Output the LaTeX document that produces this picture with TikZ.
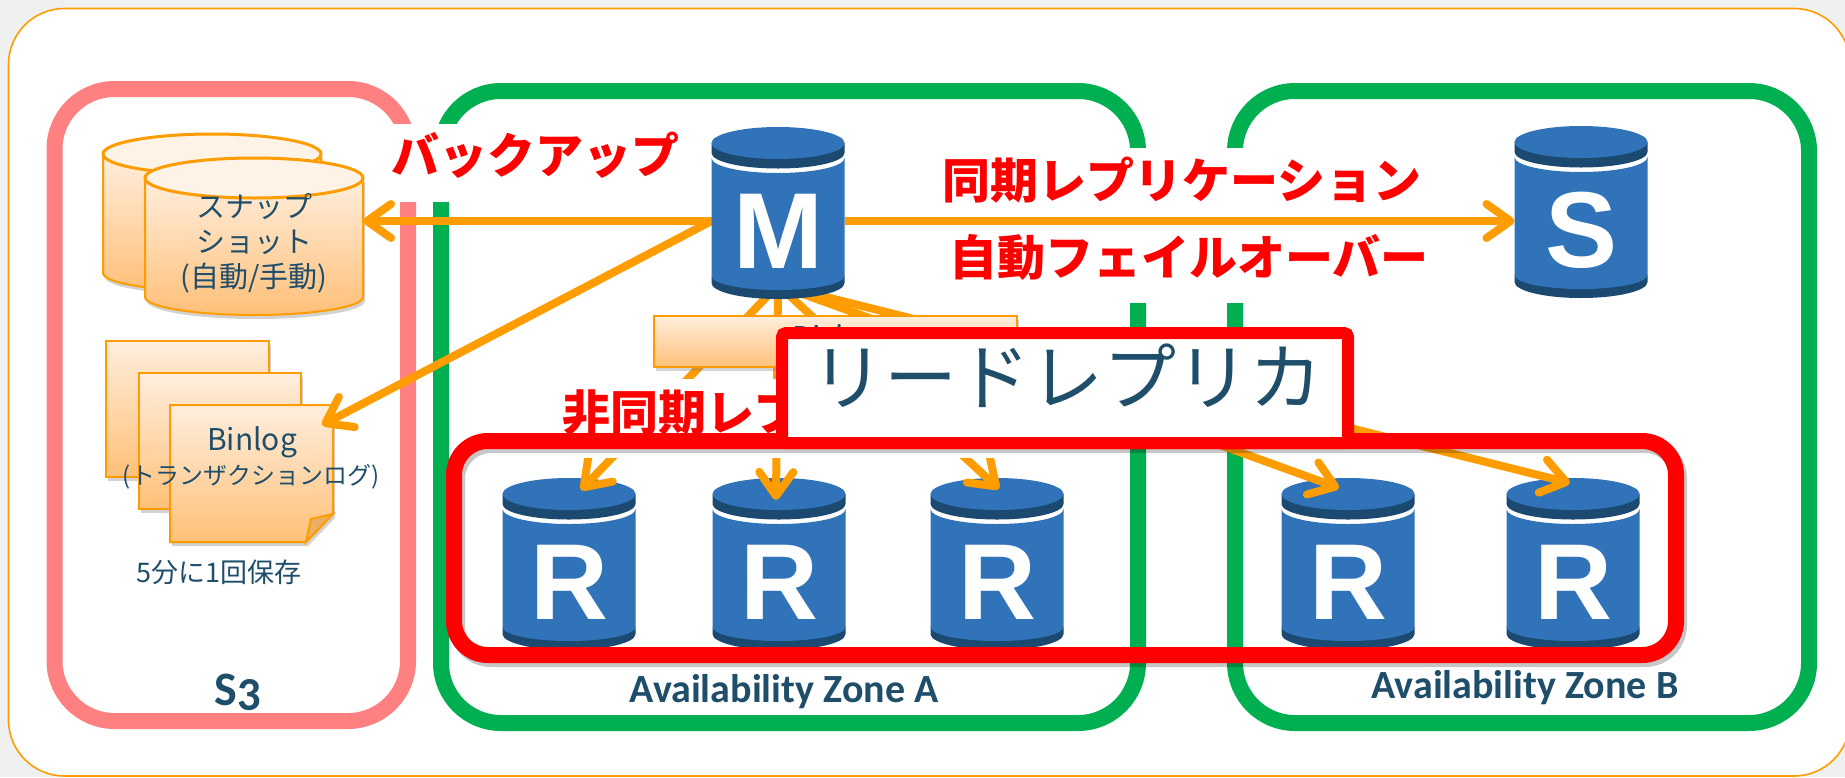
\documentclass[tikz,border=0pt]{standalone}
\usepackage{fontspec}
\usetikzlibrary{arrows.meta,shadows}
\newfontfamily\jpfont{Noto Sans CJK JP}
\newfontfamily\zonefont[Numbers=OldStyle]{Carlito}
\newfontfamily\iconfont{Liberation Sans}
\definecolor{pagegray}{HTML}{EFF1F1}
\definecolor{linkorange}{HTML}{FF9C00}
\definecolor{zonepink}{HTML}{FF8080}
\definecolor{zonegreen}{HTML}{00B050}
\definecolor{textblue}{HTML}{1F4E6B}
\definecolor{dbblue}{HTML}{3073B8}
\definecolor{dbdark}{HTML}{1B4970}
\definecolor{papertop}{HTML}{FFEEDD}
\definecolor{paperbottom}{HTML}{FFC078}
\tikzset{
  dbanchor/.style={inner sep=0,outer sep=0,minimum width=66.5pt,minimum height=86pt},
  dbletter/.style={inner sep=0,outer sep=0,text=white,font=\iconfont\bfseries\fontsize{54pt}{54pt}\selectfont},
  linkarrow/.style={linkorange,line width=4pt,-{Straight Barb[length=12pt,width=17pt,round]}},
  paper/.style={draw=linkorange,line width=1pt,top color=papertop,bottom color=paperbottom,
    drop shadow={shadow xshift=1pt,shadow yshift=-2pt,opacity=.35}},
  zoneline/.style={line width=8pt,rounded corners=30pt},
  gapbox/.style={fill=white,inner sep=0,outer sep=0},
  redtext/.style={inner sep=0,text=red,font=\jpfont\bfseries\fontsize{24pt}{28pt}\selectfont},
  bluetext/.style={inner sep=0,outer sep=0,text=textblue,align=center},
  zonetext/.style={inner sep=0,text=textblue,font=\zonefont\bfseries\fontsize{20pt}{24pt}\selectfont},
}
% one database drum, #2 = centre x, #3 = top y
\newcommand{\dbicon}[4]{
  \begin{scope}[shift={(#2,#3)}]
    \fill [dbdark] (-66.5,149) -- (-66.5,156) arc [start angle=180,end angle=0,x radius=66.5,y radius=16] -- (66.5,149) -- cycle;
    \fill [dbblue] (-66.5,31) arc [start angle=180,end angle=0,x radius=66.5,y radius=15] -- (66.5,149) arc [start angle=0,end angle=180,x radius=66.5,y radius=14] -- cycle;
    \fill [dbdark] (-66.5,16) -- (-66.5,26) arc [start angle=180,end angle=0,x radius=66.5,y radius=15.5] -- (66.5,16) -- cycle;
    \fill [dbblue] (0,16) ellipse [x radius=66.5,y radius=16];
    \node (#1text) at (0,104) [dbletter] {#4};
  \end{scope}
}
% one snapshot drum, #1 = centre x, #2 = y of the top ellipse
\newcommand{\snapdisk}[2]{
  \path [paper] (#1-109,#2) -- (#1-109,#2+119) arc [start angle=180,end angle=0,x radius=109,y radius=18] -- (#1+109,#2) -- cycle;
  \draw [linkorange,line width=1.5pt,fill=papertop!70!white] (#1,#2) ellipse [x radius=109,y radius=20];
}
\begin{document}
\begin{tikzpicture}[x=0.5pt,y=-0.5pt]
\useasboundingbox (0,0) rectangle (1845,777);
\fill [pagegray] (0,0) rectangle (1845,777);
\draw [linkorange,line width=0.8pt,fill=white,rounded corners=28pt] (8.5,8.5) rectangle (1850,776);

% places of the drums, the arrows start and end there
\node (dbM) at (778,213) [dbanchor] {};
\node (dbS) at (1581,213) [dbanchor] {};

% zones
\draw [zoneline,zonepink] (54.5,89) rectangle (408,721);
\draw [zoneline,zonegreen] (441,91) rectangle (1138,723);
\draw [zoneline,zonegreen] (1235,91) rectangle (1809,723);
\node (zoneStext) at (238,692) [zonetext,font=\zonefont\bfseries\fontsize{24pt}{28pt}\selectfont] {S3};
\node (zoneAtext) at (784,692) [zonetext] {Availability Zone A};
\node (zoneBtext) at (1525,688) [zonetext] {Availability Zone B};

% white gaps behind the red labels
\node (gapbackup) at (537,163) [gapbox,minimum width=153pt,minimum height=39pt] {};
\node (gapsync) at (1180,225.5) [gapbox,minimum width=250pt,minimum height=77.5pt] {};
\node (backuptext) at (535,155) [redtext] {バックアップ};
\node (synctext) at (1182,180) [redtext] {同期レプリケーション};
\node (failtext) at (1189,257) [redtext] {自動フェイルオーバー};

% snapshots
\snapdisk{212}{154}
\snapdisk{254}{178}
\node (snaptext) at (254,243) [bluetext,minimum width=109pt,font=\jpfont\fontsize{14.5pt}{17.5pt}\selectfont] {スナップ\\ショット\\(自動/手動)};

% binlog sheets
\path [paper] (106,341) rectangle (269,477);
\path [paper] (139,373) rectangle (301,509);
\path [paper] (170,405) -- (333,405) -- (333,514) -- (306,542) -- (170,542) -- cycle;
\draw [linkorange,line width=1pt,fill=paperbottom!70!brown] (306,542) -- (311,519) -- (333,514) -- cycle;
\node (logtitle) at (252,442) [bluetext,font=\jpfont\fontsize{15pt}{18pt}\selectfont] {Binlog};
\node (logsub) at (251,477) [bluetext,font=\jpfont\fontsize{12pt}{14pt}\selectfont] {(トランザクションログ)};
\node (logsave) at (219,572) [bluetext,font=\jpfont\fontsize{13.5pt}{16pt}\selectfont] {5分に1回保存};
\coordinate (logtip) at (322,425);

% replicas
\node (dbRa) at (569,564) [dbanchor] {};
\node (dbRb) at (779,564) [dbanchor] {};
\node (dbRc) at (997,564) [dbanchor] {};
\node (dbRd) at (1348,564) [dbanchor] {};
\node (dbRe) at (1573,564) [dbanchor] {};
\dbicon{iconRa}{569}{478}{R}
\dbicon{iconRb}{779}{478}{R}
\dbicon{iconRc}{997}{478}{R}
\dbicon{iconRd}{1348}{478}{R}
\dbicon{iconRe}{1573}{478}{R}
\dbicon{iconS}{1581}{126}{S}

\coordinate (tipRa) at (581,490);
\coordinate (tipRb) at (776,500);
\coordinate (tipRc) at (999,489);
\coordinate (tipRd) at (1339,488);
\coordinate (tipRe) at (1570,483);

\draw [linkarrow] ([yshift=-4pt]dbM.west) -- ([yshift=11pt]snaptext.east);
\draw [linkarrow] ([yshift=-4pt]dbM.west) -- (logtip);
\draw [linkarrow] ([yshift=-4pt]dbM.east) -- ([yshift=-4pt]dbS.west);
\draw [linkarrow] ([yshift=7pt]dbM.south) -- (tipRa);
\draw [linkarrow] ([yshift=7pt]dbM.south) -- (tipRb);
\draw [linkarrow] ([yshift=7pt]dbM.south) -- (tipRc);
\draw [linkarrow] ([yshift=7pt]dbM.south) -- (tipRd);
\draw [linkarrow] ([yshift=7pt]dbM.south) -- (tipRe);

\dbicon{iconM}{778}{127}{M}

% disk bar
\path [paper] (654,316) rectangle (1017,367);
\node (disktext) at (822,337) [bluetext,font=\jpfont\fontsize{15pt}{18pt}\selectfont] {Disk};

\node (gapasync) at (825,418.5) [gapbox,minimum width=270pt,minimum height=39.5pt] {};
\node (asynctext) at (826,412) [redtext] {非同期レプリケーション};

% read replica frame
\draw [line width=8pt,rounded corners=17pt,black,opacity=.22] (457,445) rectangle (1679,659);
\draw [line width=8pt,rounded corners=17pt,red] (454,441) rectangle (1676,655);
\node (leadbox) at (1065,388) [draw=red,line width=6pt,fill=white,rounded corners=2pt,minimum width=283pt,minimum height=55pt,inner sep=0] {};
\node (leadtext) at (1067,376) [bluetext,font=\jpfont\fontsize{36.5pt}{40pt}\selectfont] {リードレプリカ};
\end{tikzpicture}
\end{document}
